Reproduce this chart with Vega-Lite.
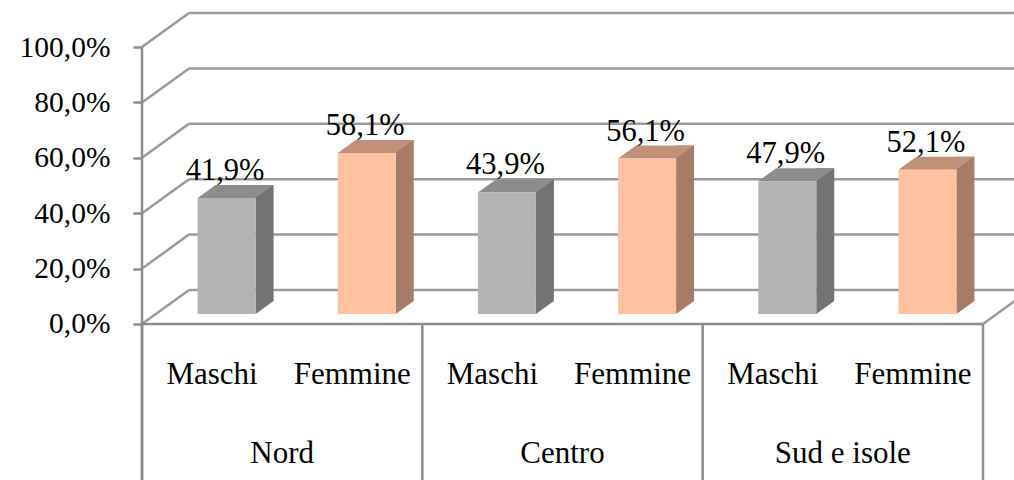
{
  "$schema": "https://vega.github.io/schema/vega-lite/v6.json",
  "width": 841,
  "height": 480,
  "autosize": {"type": "none"},
  "padding": {"left": 142, "right": 31, "top": 0, "bottom": 0},
  "background": "#ffffff",
  "datasets": {
    "main": [
      {"region": "Nord", "sex": "Maschi", "key": "Nord|Maschi", "pct": 0.419},
      {"region": "Nord", "sex": "Femmine", "key": "Nord|Femmine", "pct": 0.581},
      {"region": "Centro", "sex": "Maschi", "key": "Centro|Maschi", "pct": 0.439},
      {"region": "Centro", "sex": "Femmine", "key": "Centro|Femmine", "pct": 0.561},
      {"region": "Sud e isole", "sex": "Maschi", "key": "Sud e isole|Maschi", "pct": 0.479},
      {"region": "Sud e isole", "sex": "Femmine", "key": "Sud e isole|Femmine", "pct": 0.521}
    ],
    "grid": [{"v": 0}, {"v": 0.2}, {"v": 0.4}, {"v": 0.6}, {"v": 0.8}, {"v": 1}],
    "one": [{}]
  },
  "layer": [
    {
      "layer": [
        {
          "data": {"name": "grid"},
          "mark": {"type": "rule", "stroke": "#9a9a9a", "strokeWidth": 2.5, "yOffset": -34, "y2Offset": -34},
          "encoding": {
            "x": {"value": 47},
            "x2": {"value": {"expr": "width + 60"}},
            "y": {"field": "v", "type": "quantitative", "title": null,
                  "scale": {"domain": [-0.56318, 1.16968], "nice": false, "zero": false},
                  "axis": {"values": [0, 0.2, 0.4, 0.6, 0.8, 1], "format": ".1%"}},
            "y2": {"field": "v"}
          }
        },
        {
          "data": {"name": "grid"},
          "mark": {"type": "rule", "stroke": "#9a9a9a", "strokeWidth": 2.5, "y2Offset": -34},
          "encoding": {
            "x": {"value": 0},
            "x2": {"value": 47},
            "y": {"field": "v", "type": "quantitative", "title": null},
            "y2": {"field": "v"}
          }
        },
        {
          "data": {"name": "one"},
          "mark": {"type": "rule", "stroke": "#8c8c8c", "strokeWidth": 2.5},
          "encoding": {
            "x": {"value": 0},
            "x2": {"value": {"expr": "width"}},
            "y": {"datum": 0, "type": "quantitative", "title": null},
            "y2": {"datum": 0}
          }
        },
        {
          "data": {"name": "one"},
          "mark": {"type": "rule", "stroke": "#9a9a9a", "strokeWidth": 2.5, "y2Offset": -34},
          "encoding": {
            "x": {"value": {"expr": "width"}},
            "x2": {"value": {"expr": "width + 47"}},
            "y": {"datum": 0, "type": "quantitative", "title": null},
            "y2": {"datum": 0}
          }
        },
        {
          "data": {"name": "one"},
          "mark": {"type": "rule", "stroke": "#8c8c8c", "strokeWidth": 2.5},
          "encoding": {
            "x": {"value": 0},
            "y": {"datum": 1, "type": "quantitative", "title": null},
            "y2": {"datum": -0.56318}
          }
        },
        {
          "data": {"name": "one"},
          "mark": {"type": "rule", "stroke": "#8c8c8c", "strokeWidth": 2.5},
          "encoding": {
            "x": {"value": {"expr": "width"}},
            "y": {"datum": 0, "type": "quantitative", "title": null},
            "y2": {"datum": -0.56318}
          }
        }
      ]
    },
    {
      "data": {"name": "main"},
      "transform": [{"filter": "datum.sex == 'Maschi'"}],
      "mark": {"type": "rule", "stroke": "#8c8c8c", "strokeWidth": 2.5},
      "encoding": {
        "x": {"field": "region", "type": "nominal", "bandPosition": 0, "title": null,
              "scale": {"domain": ["Nord", "Centro", "Sud e isole"], "paddingInner": 0, "paddingOuter": 0},
              "axis": {"orient": "bottom", "offset": -156, "ticks": false, "tickSize": 0, "domain": false, "labelPadding": 138, "labelBaseline": "alphabetic", "labelAngle": 0, "labelFontSize": 31}},
        "y": {"datum": 0, "type": "quantitative", "title": null},
        "y2": {"datum": -0.56318}
      }
    },
    {
      "data": {"name": "main"},
      "layer": [
        {
          "mark": {"type": "bar", "width": 18, "xOffset": 52.5, "yOffset": -23, "y2Offset": -23},
          "encoding": {
            "x": {"field": "key", "type": "nominal", "title": null,
                  "scale": {"domain": ["Nord|Maschi", "Nord|Femmine", "Centro|Maschi", "Centro|Femmine", "Sud e isole|Maschi", "Sud e isole|Femmine"], "paddingInner": 0, "paddingOuter": 0},
                  "axis": {"orient": "bottom", "offset": -156, "ticks": false, "tickSize": 0, "domain": false, "labelPadding": 59, "labelBaseline": "alphabetic", "labelAngle": 0, "labelFontSize": 31, "labelExpr": "split(datum.value, '|')[1]"}},
            "y": {"field": "pct", "type": "quantitative", "title": null},
            "y2": {"datum": 0},
            "color": {"condition": {"test": "datum.sex == 'Maschi'", "value": "#737373"}, "value": "#a47c69"}
          }
        },
        {
          "mark": {"type": "point", "shape": "M29,-13L29,0L47,-13Z", "size": 4, "filled": true, "opacity": 1, "strokeWidth": 0, "xOffset": 14.5, "yOffset": -10},
          "encoding": {
            "x": {"field": "key", "type": "nominal", "title": null},
            "y": {"datum": 0, "type": "quantitative", "title": null},
            "color": {"condition": {"test": "datum.sex == 'Maschi'", "value": "#737373"}, "value": "#a47c69"}
          }
        },
        {
          "mark": {"type": "point", "shape": "M-29,0L29,0L47,-13L-11,-13Z", "size": 4, "filled": true, "opacity": 1, "strokeWidth": 0, "xOffset": 14.5, "yOffset": -10},
          "encoding": {
            "x": {"field": "key", "type": "nominal", "title": null},
            "y": {"field": "pct", "type": "quantitative", "title": null},
            "color": {"condition": {"test": "datum.sex == 'Maschi'", "value": "#8c8c8c"}, "value": "#c19079"}
          }
        },
        {
          "mark": {"type": "bar", "width": 58, "xOffset": 14.5, "yOffset": -10, "y2Offset": -10},
          "encoding": {
            "x": {"field": "key", "type": "nominal", "title": null},
            "y": {"field": "pct", "type": "quantitative", "title": null},
            "y2": {"datum": 0},
            "color": {"condition": {"test": "datum.sex == 'Maschi'", "value": "#b3b3b3"}, "value": "#ffc1a0"}
          }
        },
        {
          "mark": {"type": "text", "font": "Liberation Serif", "fontSize": 30.5, "color": "#000000", "baseline": "alphabetic", "align": "center", "xOffset": 13, "yOffset": -28},
          "encoding": {
            "x": {"field": "key", "type": "nominal", "title": null},
            "y": {"field": "pct", "type": "quantitative", "title": null},
            "text": {"field": "pct", "type": "quantitative", "format": ".1%"}
          }
        }
      ]
    }
  ],
  "resolve": {"scale": {"x": "independent"}},
  "config": {
    "view": {"stroke": null},
    "locale": {"number": {"decimal": ",", "thousands": ".", "grouping": [3], "currency": ["", " €"]}},
    "axis": {"labelFont": "Liberation Serif", "labelFontSize": 29, "labelColor": "#000000", "grid": false, "domain": false},
    "axisY": {"tickSize": 9, "tickColor": "#8c8c8c", "tickWidth": 2.5, "labelPadding": 23, "labelFontSize": 29.5}
  }
}
